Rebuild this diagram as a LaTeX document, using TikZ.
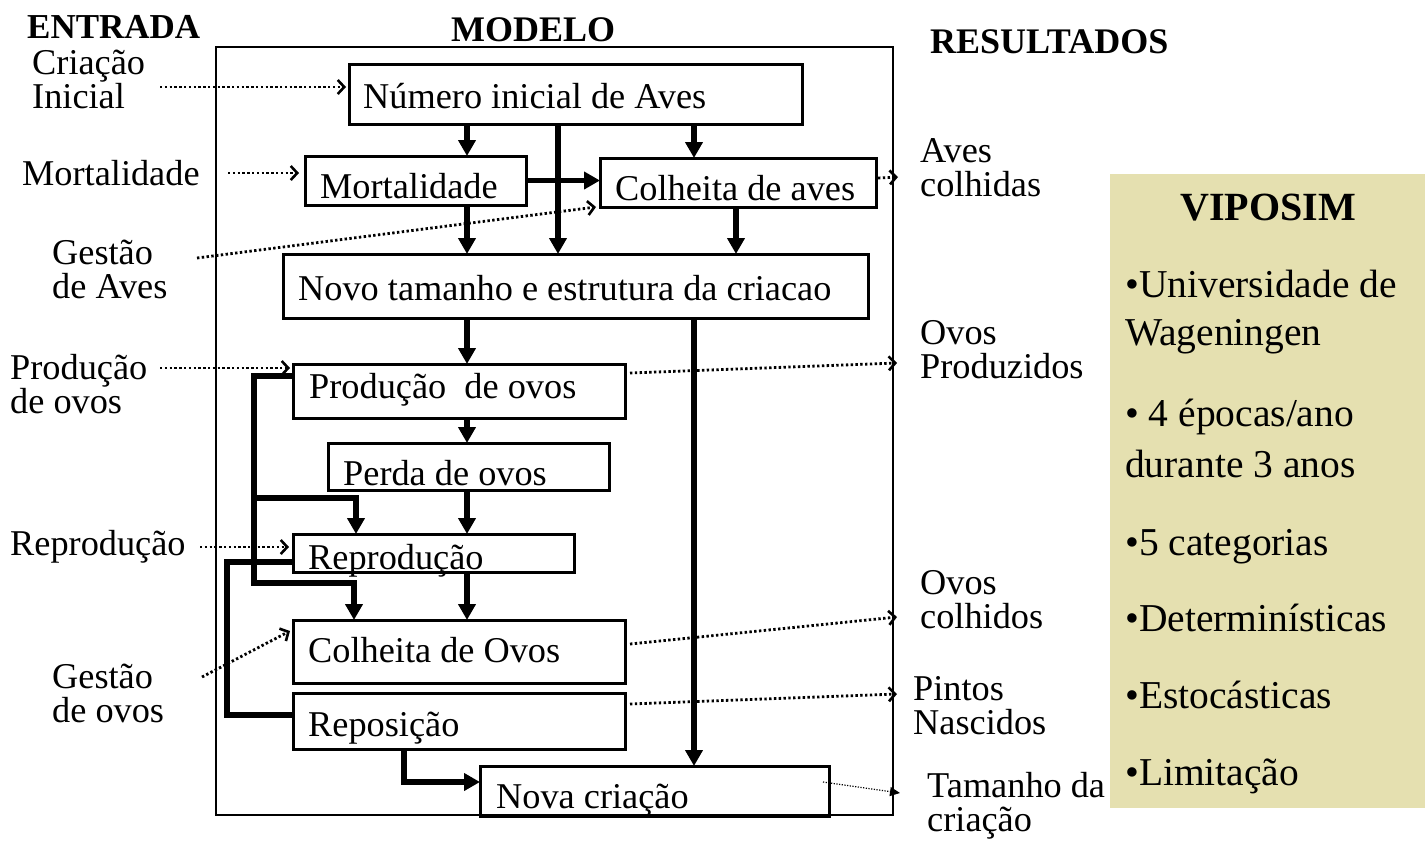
\documentclass[tikz,border=0pt]{standalone}
\usepackage{fontspec}
\setmainfont{Liberation Serif}
\newfontfamily\garfont{Liberation Serif}
\usetikzlibrary{arrows.meta}
\definecolor{khaki}{RGB}{229,224,176}
\tikzset{
  box/.style={draw, line width=3pt, inner sep=0pt, outer sep=0pt, anchor=north west},
  txt/.style={inner sep=0pt, anchor=base west, font=\fontsize{36.3}{36.3}\selectfont},
  lbl/.style={inner sep=0pt, anchor=base west, align=left, font=\fontsize{36.3}{33.5}\selectfont},
  head/.style={inner sep=0pt, anchor=base west, font=\fontsize{36}{36}\selectfont\bfseries},
  vtxt/.style={inner sep=0pt, anchor=base west, font=\garfont\fontsize{39.5}{39.5}\selectfont},
  flow/.style={line width=5.5pt, -{Triangle[length=16pt,width=17pt]}},
  fback/.style={line width=5.5pt},
  dotarr/.style={line width=2.8pt, dash pattern=on 2.4pt off 2.4pt, -{Straight Barb[length=6.5pt,width=14pt,line width=2.6pt]}},
  thindot/.style={line width=1.2pt, dash pattern=on 1.2pt off 1.5pt, -{Triangle[length=10pt,width=9pt]}},
}
\begin{document}
\begin{tikzpicture}[x=1pt,y=-1pt]
\useasboundingbox (0,0) rectangle (1425,841);

% headings
\node[head, font=\fontsize{35}{35}\selectfont\bfseries] (hin) at (27,38) {ENTRADA};
\node[head] (hmod) at (451,41) {MODELO};
\node[head] (hres) at (930,53) {RESULTADOS};

% outer model frame
\node[draw, line width=1.5pt, inner sep=0pt, outer sep=0pt, anchor=north west,
      minimum width=677pt, minimum height=768pt] (frame) at (216,47) {};

% VIPOSIM panel
\node[fill=khaki, inner sep=0pt, outer sep=0pt, anchor=north west,
      minimum width=315pt, minimum height=634pt] (panel) at (1110,174) {};
\node[inner sep=0pt, anchor=base, font=\garfont\fontsize{40}{40}\selectfont\bfseries] (vtitle) at (1268,220) {VIPOSIM};
\node[vtxt] (v1) at (1125,297) {•Universidade de};
\node[vtxt] (v2) at (1125,345) {Wageningen};
\node[vtxt] (v3) at (1125,426) {• 4 épocas/ano};
\node[vtxt] (v4) at (1125,477) {durante 3 anos};
\node[vtxt] (v5) at (1125,555) {•5 categorias};
\node[vtxt] (v6) at (1125,631) {•Determinísticas};
\node[vtxt] (v7) at (1125,708) {•Estocásticas};
\node[vtxt] (v8) at (1125,785) {•Limitação};

% model boxes
\node[box, minimum width=453pt, minimum height=60pt] (num)   at (349,64)  {};
\node[box, minimum width=221pt, minimum height=49pt] (mort)  at (305,156) {};
\node[box, minimum width=276pt, minimum height=49pt] (colA)  at (600,158) {};
\node[box, minimum width=585pt, minimum height=64pt] (novo)  at (283,254) {};
\node[box, minimum width=332pt, minimum height=54pt] (prod)  at (293,364) {};
\node[box, minimum width=281pt, minimum height=47pt] (perda) at (328,443) {};
\node[box, minimum width=281pt, minimum height=38pt] (repr)  at (293,534) {};
\node[box, minimum width=332pt, minimum height=63pt] (colO)  at (293,620) {};
\node[box, minimum width=332pt, minimum height=56pt] (repo)  at (293,693) {};
\node[box, minimum width=349pt, minimum height=50pt] (nova)  at (480,766) {};

% box texts
\node[txt] (tnum)   at (363,108) {Número inicial de Aves};
\node[txt] (tmort)  at (320,198) {Mortalidade};
\node[txt] (tcolA)  at (615,200) {Colheita de aves};
\node[txt] (tnovo)  at (298,300) {Novo tamanho e estrutura da criacao};
\node[txt] (tprod)  at (309,398) {Produção\ \ de ovos};
\node[txt] (tperda) at (343,485) {Perda de ovos};
\node[txt] (trepr)  at (308,569) {Reprodução};
\node[txt] (tcolO)  at (308,662) {Colheita de Ovos};
\node[txt] (trepo)  at (308,736) {Reposição};
\node[txt] (tnova)  at (496,808) {Nova criação};

% input labels (anchor at last-line baseline)
\node[lbl] (li1) at (32,108) {Criação\\Inicial};
\node[txt] (li2) at (22,185) {Mortalidade};
\node[lbl] (li3) at (52,298) {Gestão\\de Aves};
\node[lbl] (li4) at (10,413) {Produção\\de ovos};
\node[txt] (li5) at (10,555) {Reprodução};
\node[lbl] (li6) at (52,722) {Gestão\\de ovos};

% output labels
\node[lbl] (lo1) at (920,196) {Aves\\colhidas};
\node[lbl] (lo2) at (920,378) {Ovos\\Produzidos};
\node[lbl] (lo3) at (920,628) {Ovos\\colhidos};
\node[lbl] (lo4) at (913,734) {Pintos\\Nascidos};
\node[lbl] (lo5) at (927,831) {Tamanho da\\criação};

% column / routing coordinates
\coordinate (xA) at (467,0);
\coordinate (xB) at (558,0);
\coordinate (xC) at (694,0);
\coordinate (xD) at (736,0);
\coordinate (l1) at (254,376);
\coordinate (l2) at (254,583);
\coordinate (l3) at (354,583);
\coordinate (b1) at (254,498);
\coordinate (b2) at (356,498);
\coordinate (m1) at (227,562);
\coordinate (m2) at (227,715);
\coordinate (r1) at (404,782);

% solid flows
\draw[flow] (num.south -| xA) -- (mort.north -| xA);
\draw[flow] (num.south -| xB) -- (novo.north -| xB);
\draw[flow] (num.south -| xC) -- (colA.north -| xC);
\draw[flow] (mort.east) -- (mort.east -| colA.west);
\draw[flow] (mort.south -| xA) -- (novo.north -| xA);
\draw[flow] (colA.south -| xD) -- (novo.north -| xD);
\draw[flow] (novo.south -| xA) -- (prod.north -| xA);
\draw[flow] (novo.south -| xC) -- (nova.north -| xC);
\draw[flow] (prod.south -| xA) -- (perda.north -| xA);
\draw[flow] (perda.south -| xA) -- (repr.north -| xA);
\draw[flow] (repr.south -| xA) -- (colO.north -| xA);
\draw[flow] (l1 -| prod.west) -- (l1) -- (l2) -- (l3) -- (l3 |- colO.north);
\draw[flow] (b1) -- (b2) -- (b2 |- repr.north);
\draw[fback] (m1 -| repr.west) -- (m1) -- (m2) -- (m2 -| repo.west);
\draw[flow] (repo.south -| r1) -- (r1) -- (r1 -| nova.west);

% dotted input connectors
\coordinate (ciS) at (160,87);
\coordinate (mS)  at (228,173);
\coordinate (gaS) at (197,258);
\coordinate (gaE) at (596,207);
\coordinate (pS)  at (160,368);
\coordinate (pE)  at (290,368);
\coordinate (rS)  at (200,547);
\coordinate (goS) at (202,677);
\coordinate (goE) at (290,631);
\draw[dotarr, shorten >=3pt] (ciS) -- (num.west |- ciS);
\draw[dotarr, shorten >=6pt] (mS) -- (mort.west |- mS);
\draw[dotarr] (gaS) -- (gaE);
\draw[dotarr] (pS) -- (pE);
\draw[dotarr, shorten >=4pt] (rS) -- (repr.west |- rS);
\draw[dotarr] (goS) -- (goE);

% dotted output connectors
\coordinate (aoS) at (878,178);
\coordinate (aoE) at (898,177);
\coordinate (opS) at (630,373);
\coordinate (opE) at (897,363);
\coordinate (ocS) at (630,644);
\coordinate (ocE) at (897,617);
\coordinate (pnS) at (630,704);
\coordinate (pnE) at (897,694);
\coordinate (tcS) at (823,782);
\coordinate (tcE) at (900,793);
\draw[dotarr] (aoS) -- (aoE);
\draw[dotarr] (opS) -- (opE);
\draw[dotarr] (ocS) -- (ocE);
\draw[dotarr] (pnS) -- (pnE);
\draw[thindot] (tcS) -- (tcE);
\end{tikzpicture}
\end{document}
